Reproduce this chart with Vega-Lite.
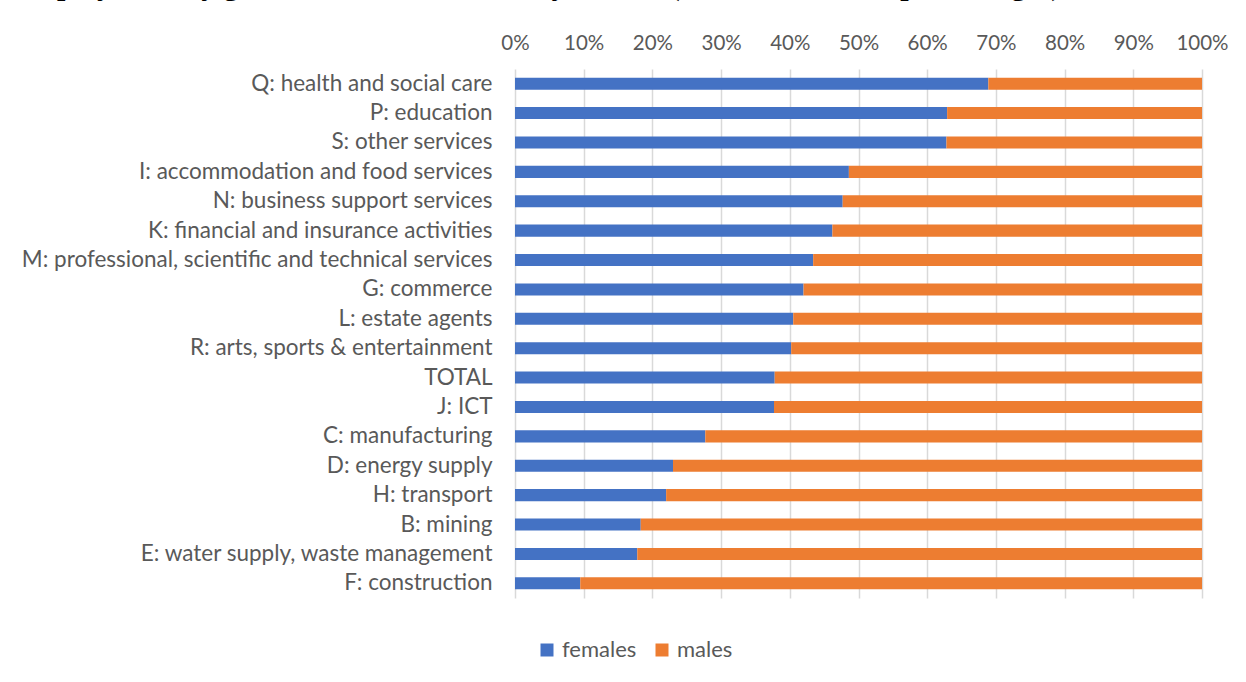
{
  "$schema": "https://vega.github.io/schema/vega-lite/v6.json",
  "autosize": {"type": "none"},
  "padding": {"left": 515, "top": 69, "right": 44, "bottom": 84},
  "width": 687,
  "height": 529,
  "background": "white",
  "title": {
    "text": "Employment by gender in the main activity sectors (relative share, in percentages)",
    "anchor": "start",
    "frame": "group",
    "font": "Liberation Serif",
    "fontSize": 30,
    "fontWeight": "bold",
    "color": "black",
    "dx": -503,
    "offset": 32
  },
  "data": {
    "values": [
      {"sector": "Q: health and social care", "gender": "females", "share": 0.689},
      {"sector": "Q: health and social care", "gender": "males", "share": 0.311},
      {"sector": "P: education", "gender": "females", "share": 0.629},
      {"sector": "P: education", "gender": "males", "share": 0.371},
      {"sector": "S: other services", "gender": "females", "share": 0.628},
      {"sector": "S: other services", "gender": "males", "share": 0.372},
      {"sector": "I: accommodation and food services", "gender": "females", "share": 0.486},
      {"sector": "I: accommodation and food services", "gender": "males", "share": 0.514},
      {"sector": "N: business support services", "gender": "females", "share": 0.477},
      {"sector": "N: business support services", "gender": "males", "share": 0.523},
      {"sector": "K: financial and insurance activities", "gender": "females", "share": 0.462},
      {"sector": "K: financial and insurance activities", "gender": "males", "share": 0.538},
      {"sector": "M: professional, scientific and technical services", "gender": "females", "share": 0.434},
      {"sector": "M: professional, scientific and technical services", "gender": "males", "share": 0.566},
      {"sector": "G: commerce\u2009", "gender": "females", "share": 0.42},
      {"sector": "G: commerce\u2009", "gender": "males", "share": 0.58},
      {"sector": "L: estate agents", "gender": "females", "share": 0.405},
      {"sector": "L: estate agents", "gender": "males", "share": 0.595},
      {"sector": "R: arts, sports & entertainment", "gender": "females", "share": 0.402},
      {"sector": "R: arts, sports & entertainment", "gender": "males", "share": 0.598},
      {"sector": "TOTAL", "gender": "females", "share": 0.378},
      {"sector": "TOTAL", "gender": "males", "share": 0.622},
      {"sector": "J: ICT", "gender": "females", "share": 0.377},
      {"sector": "J: ICT", "gender": "males", "share": 0.623},
      {"sector": "C: manufacturing", "gender": "females", "share": 0.277},
      {"sector": "C: manufacturing", "gender": "males", "share": 0.723},
      {"sector": "D: energy supply\u2009", "gender": "females", "share": 0.23},
      {"sector": "D: energy supply\u2009", "gender": "males", "share": 0.77},
      {"sector": "H: transport", "gender": "females", "share": 0.22},
      {"sector": "H: transport", "gender": "males", "share": 0.78},
      {"sector": "B: mining", "gender": "females", "share": 0.183},
      {"sector": "B: mining", "gender": "males", "share": 0.817},
      {"sector": "E: water supply, waste management", "gender": "females", "share": 0.178},
      {"sector": "E: water supply, waste management", "gender": "males", "share": 0.822},
      {"sector": "F: construction", "gender": "females", "share": 0.095},
      {"sector": "F: construction", "gender": "males", "share": 0.905}
    ]
  },
  "mark": {"type": "bar"},
  "encoding": {
    "y": {
      "field": "sector",
      "type": "nominal",
      "sort": null,
      "scale": {"paddingInner": 0.59, "paddingOuter": 0.295},
      "axis": {
        "title": null,
        "domain": false,
        "ticks": false,
        "labelPadding": 23,
        "labelFont": "Lato",
        "labelFontSize": 22.5,
        "labelColor": "#595959",
        "labelLimit": 600
      }
    },
    "x": {
      "field": "share",
      "type": "quantitative",
      "stack": "zero",
      "scale": {"domain": [0, 1], "nice": false},
      "axis": {
        "orient": "top",
        "title": null,
        "format": ".0%",
        "values": [0, 0.1, 0.2, 0.3, 0.4, 0.5, 0.6, 0.7, 0.8, 0.9, 1],
        "domain": false,
        "ticks": false,
        "grid": true,
        "gridColor": "#d9d9d9",
        "gridWidth": 1.5,
        "labelPadding": 16,
        "labelFont": "Lato",
        "labelFontSize": 20.5,
        "labelColor": "#595959",
        "labelFlush": false
      }
    },
    "color": {
      "field": "gender",
      "type": "nominal",
      "scale": {"domain": ["females", "males"], "range": ["#4472C4", "#ED7D31"]},
      "legend": {
        "title": null,
        "orient": "none",
        "direction": "horizontal",
        "legendX": 21,
        "legendY": 570,
        "symbolType": "square",
        "symbolSize": 169,
        "symbolStrokeWidth": 0,
        "symbolOpacity": 1,
        "labelFont": "Lato",
        "labelFontSize": 22,
        "labelColor": "#595959",
        "labelOffset": 4,
        "columnPadding": 14
      }
    },
    "order": {"field": "gender", "sort": "ascending"}
  },
  "config": {"view": {"stroke": null}}
}
